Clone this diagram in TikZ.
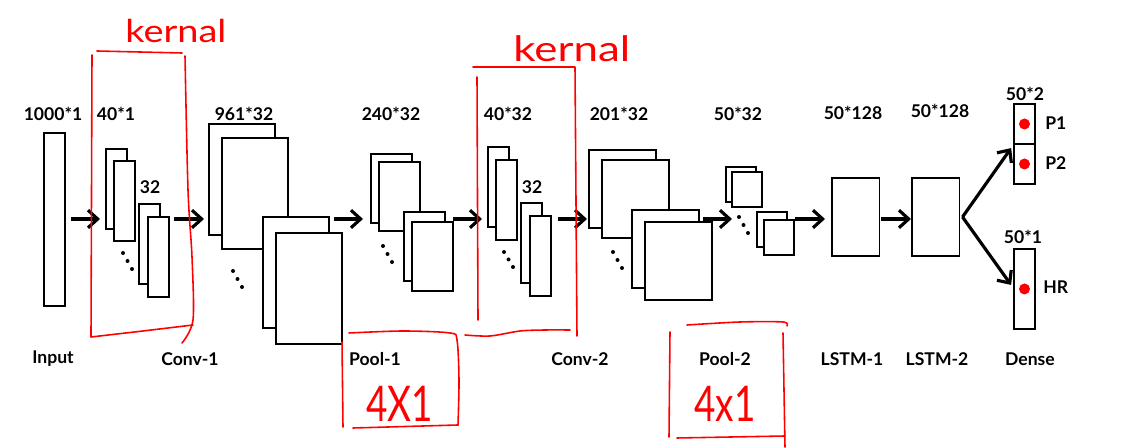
\documentclass[tikz,border=0pt]{standalone}
\usepackage{fontspec}
\setmainfont{Lato}
\usetikzlibrary{arrows.meta}
\tikzset{
  fmap/.style={draw, fill=white, line width=0.95pt, inner sep=0pt, outer sep=0pt, anchor=north west},
  kbox/.style={fmap, minimum width=0.42cm, minimum height=1.6cm},
  cbox/.style={fmap, minimum width=1.32cm, minimum height=2.22cm},
  pbox/.style={fmap, minimum width=0.82cm, minimum height=1.38cm},
  qbox/.style={fmap, minimum width=1.34cm, minimum height=1.56cm},
  sbox/.style={fmap, minimum width=0.6cm, minimum height=0.7cm},
  lbox/.style={fmap, minimum width=0.95cm, minimum height=1.56cm},
  lbl/.style={font=\fontsize{10}{12}\selectfont\bfseries, inner sep=0pt},
  arr/.style={-{Straight Barb[length=5.5pt,width=10pt]}, line width=1.8pt},
  dot/.style={circle, fill, inner sep=0pt, minimum size=0.08cm},
  rdot/.style={circle, fill=red, inner sep=0pt, minimum size=0.22cm},
  hand/.style={red, line width=0.9pt, line cap=round, line join=round},
  handtxt/.style={red, inner sep=0pt}
}

\begin{document}
\begin{tikzpicture}[x=0.02cm, y=-0.02cm]
  \useasboundingbox (0,0) rectangle (1123,448);

  % input
  \node[fmap, minimum width=0.42cm, minimum height=3.46cm] (in) at (44,133) {};

  % conv-1 kernels
  \node[kbox] (k1a) at (106,149) {};
  \node[kbox] (k1b) at (114,161) {};
  \node[kbox] (k1c) at (139,204) {};
  \node[kbox] (k1d) at (148,217) {};
  \foreach \k in {0,1,2} \node[dot] at (123+4.5*\k, 253+8*\k) {};

  % conv-1 output
  \node[cbox] (c1a) at (209,124) {};
  \node[cbox] (c1b) at (222,138) {};
  \node[cbox] (c1c) at (263,217) {};
  \node[cbox] (c1d) at (276,233) {};
  \foreach \k in {0,1,2} \node[dot] at (233+4.5*\k, 271+8*\k) {};

  % pool-1
  \node[pbox] (p1a) at (371,154) {};
  \node[pbox] (p1b) at (379,162) {};
  \node[pbox] (p1c) at (404,212) {};
  \node[pbox] (p1d) at (412,222) {};
  \foreach \k in {0,1,2} \node[dot] at (383+4.5*\k, 246+8*\k) {};

  % conv-2 kernels
  \node[kbox] (k2a) at (488,147) {};
  \node[kbox] (k2b) at (496,160) {};
  \node[kbox] (k2c) at (521,203) {};
  \node[kbox] (k2d) at (530,216) {};
  \foreach \k in {0,1,2} \node[dot] at (504+4.5*\k, 252+7.5*\k) {};

  % conv-2 output
  \node[qbox] (c2a) at (589,150) {};
  \node[qbox] (c2b) at (602,160) {};
  \node[qbox] (c2c) at (632,210) {};
  \node[qbox] (c2d) at (645,222) {};
  \foreach \k in {0,1,2} \node[dot] at (613+4.5*\k, 252+8*\k) {};

  % pool-2
  \node[sbox] (p2a) at (726,167) {};
  \node[sbox] (p2b) at (732,172) {};
  \node[sbox] (p2c) at (757,212) {};
  \node[sbox] (p2d) at (764,220) {};
  \foreach \k in {0,1,2} \node[dot] at (739+4.5*\k, 217+8*\k) {};

  % lstm and dense
  \node[lbox] (l1) at (832,178) {};
  \node[lbox] (l2) at (912,178) {};
  \node[fmap, minimum width=0.42cm, minimum height=0.8cm] (dp1) at (1014,104) {};
  \node[fmap, minimum width=0.42cm, minimum height=0.8cm] (dp2) at (1014,144) {};
  \node[fmap, minimum width=0.42cm, minimum height=1.6cm] (dhr) at (1014,249) {};
  \node[rdot] (rp1) at (dp1.center) {};
  \node[rdot] (rp2) at (dp2.center) {};
  \node[rdot] (rhr) at (dhr.center) {};

  % arrows
  \coordinate (row) at (0,219);
  \draw[arr, shorten <=0.12cm, shorten >=0.12cm] (in.east |- row) -- (k1a.west |- row);
  \draw[arr, shorten <=0.1cm, shorten >=0.1cm] (k1d.east |- row) -- (c1a.west |- row);
  \draw[arr, shorten <=0.1cm, shorten >=0.16cm] (c1c.east |- row) -- (p1a.west |- row);
  \draw[arr, shorten >=0.12cm] (p1d.east |- row) -- (k2a.west |- row);
  \draw[arr, shorten <=0.14cm, shorten >=0.04cm] (k2d.east |- row) -- (c2a.west |- row);
  \draw[arr, shorten <=0.08cm, shorten >=-0.12cm] (c2c.east |- row) -- (p2a.west |- row);
  \draw[arr, shorten <=0.02cm, shorten >=0.14cm] (p2d.east |- row) -- (l1.west |- row);
  \draw[arr, shorten <=0.04cm, shorten >=0.02cm] (l1.east |- row) -- (l2.west |- row);
  \draw[arr, shorten >=0.1cm] ([xshift=0.06cm]l2.east) -- (dp2.north west);
  \draw[arr, shorten >=0.1cm] ([xshift=0.06cm]l2.east) -- (dhr.west);

  % sizes
  \node[lbl] (t1) at (53,114) {1000*1};
  \node[lbl] (t2) at (116,114) {40*1};
  \node[lbl] (t3) at (150,187) {32};
  \node[lbl] (t4) at (244,114) {961*32};
  \node[lbl] (t5) at (391,114) {240*32};
  \node[lbl] (t6) at (508,114) {40*32};
  \node[lbl] (t7) at (532,187) {32};
  \node[lbl] (t8) at (619,114) {201*32};
  \node[lbl] (t9) at (738,114) {50*32};
  \node[lbl] (t10) at (853,113) {50*128};
  \node[lbl] (t11) at (940,111) {50*128};
  \node[lbl] (t12) at (1025,94) {50*2};
  \node[lbl] (t13) at (1023,237) {50*1};
  \node[lbl, anchor=west] (o1) at (1045,123) {P1};
  \node[lbl, anchor=west] (o2) at (1045,163) {P2};
  \node[lbl, anchor=west] (o3) at (1043,287) {HR};

  % layer names
  \node[lbl] (n1) at (53,359) {Input};
  \node[lbl] (n2) at (190,359) {Conv-1};
  \node[lbl] (n3) at (375,359) {Pool-1};
  \node[lbl] (n4) at (580,359) {Conv-2};
  \node[lbl] (n5) at (725,359) {Pool-2};
  \node[lbl] (n6) at (852,359) {LSTM-1};
  \node[lbl] (n7) at (937,359) {LSTM-2};
  \node[lbl] (n8) at (1030,359) {Dense};

  % red notes
  \draw[hand] (97,51) -- (182,53);
  \draw[hand] (92,55) -- (91,337) -- (143,331) -- (193,325);
  \draw[hand] plot[smooth] coordinates {(185,56) (188,190) (192,257) (193,320) (182,343)};
  \node[handtxt, font=\fontsize{18}{18}\selectfont, anchor=base west] (kn1) at (125,43) {\scalebox{1.2}[1]{kernal}};

  \draw[hand] (473,67) -- (575,67) -- (577,336);
  \draw[hand] (477,77) -- (478,320);
  \draw[hand] plot[smooth] coordinates {(465,335) (490,336) (520,331) (545,330) (570,330)};
  \node[handtxt, font=\fontsize{20}{20}\selectfont, anchor=base west] (kn2) at (513,62) {\scalebox{1.25}[1]{kernal}};

  \draw[hand] (342,342) -- (343,427);
  \draw[hand] plot[smooth] coordinates {(349,333) (403,331) (450,333) (457,340) (459,380) (458,425)};
  \draw[hand] (353,428) -- (458,425);
  \node[handtxt, font=\fontsize{28}{28}\selectfont, anchor=base west] (pk1) at (366,422) {\scalebox{0.75}[1]{4X1}};

  \draw[hand] (670,332) -- (669,437);
  \draw[hand] plot[smooth] coordinates {(687,325) (740,322) (783,322) (787,326)};
  \draw[hand] (783,333) -- (785,447);
  \draw[hand] (677,438) -- (785,436);
  \node[handtxt, font=\fontsize{28}{28}\selectfont, anchor=base west] (pk2) at (694,422) {\scalebox{0.75}[1]{4x1}};
\end{tikzpicture}
\end{document}
